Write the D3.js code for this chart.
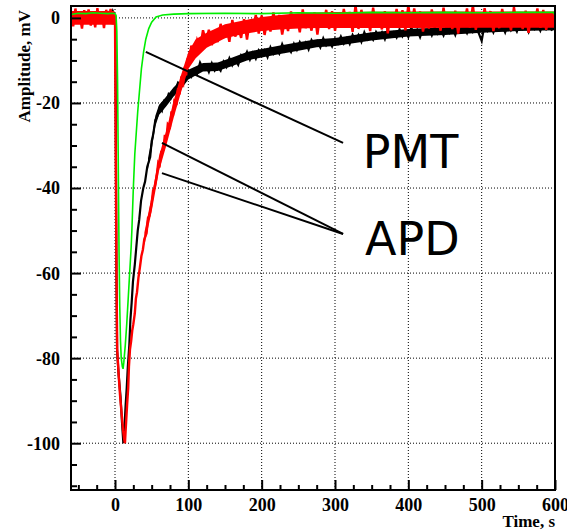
<!DOCTYPE html>
<html>
<head>
<meta charset="utf-8">
<script src="https://cdn.jsdelivr.net/npm/d3@7"></script>
<style>
  body { margin: 0; background: #fff; }
  svg { display: block; }
</style>
</head>
<body>
<div id="chart"></div>
<script>
// ticks
const xMajor = [0, 100, 200, 300, 400, 500, 600]
const xMinor = [-50, -25, 25, 50, 75, 125, 150, 175, 225, 250, 275, 325, 350, 375, 425, 450, 475, 525, 550, 575]
const yMajor = [0, -20, -40, -60, -80, -100]
const yMinor = [-5, -10, -15, -25, -30, -35, -45, -50, -55, -65, -70, -75, -85, -90, -95, -105, -110]

// PMT, [time, amplitude]
const pmt = [[-60, 0.8], [-50, 1.1], [-40, 1.0], [-30, 1.2], [-20, 1.1], [-10, 1.0], [-3, 1.1], [0, 1.0],
  [1.5, 0.5], [2.5, -3], [3.5, -15], [4.5, -35], [5.5, -55], [6.5, -68], [7.5, -76], [8.5, -80], [10, -82],
  [11, -82.5], [12, -81], [14, -77], [16, -72], [18, -66], [20, -60], [22, -54], [23, -50], [24, -45],
  [25, -40], [27, -32], [29, -27], [31, -22], [33, -18], [36, -12], [39, -8], [42, -5], [46, -2.5], [50, -1],
  [56, 0.2], [65, 0.7], [80, 0.9], [100, 1.0], [150, 1.1], [200, 1.0], [250, 1.2], [300, 1.1], [350, 1.3],
  [400, 1.2], [450, 1.3], [500, 1.2], [550, 1.3], [598, 1.3], [600, 0.6]]

// APD (black): baseline sampled every 3 s from -60, pulse as pairs, tail every 4 s from 100
const apd1Pre = [0.0, 0.8, -0.4, 0.5, -0.1, 1.0, -0.3, 0.3, 0.8, -0.5, 0.6, 0.0, 0.9, -0.3, 0.4, 0.7, -0.2, 1.1, 0.1, 1.6, 0.3]
const apd1Pulse = [[0.5, 0], [1.2, -30], [2, -60], [2.8, -78], [5, -84], [7.5, -89], [9.5, -95], [11.4, -100],
  [13, -96], [14.5, -91], [16, -87], [17.5, -82], [19.5, -77], [21, -71], [22.7, -67], [24.5, -62], [27, -58],
  [29, -54], [31, -50], [33, -47.5], [35.5, -43], [38.6, -40], [41, -38.5], [44, -35], [48, -32.7], [50, -29],
  [52, -27.5], [55, -24], [58, -23], [61, -21], [64, -21.8], [67, -19.5], [70, -19.8], [73, -18], [76, -18.8],
  [79.5, -17], [83, -16.5], [86, -15.2], [90, -15.8], [94, -14], [98, -14.2]]
const apd1Tail = [-12.7, -13.8, -12.2, -13.1, -10.5, -11.9, -11.1, -12.7, -10.7, -12.4, -11.5, -12.4, -10.3,
  -11.5, -9.5, -11.1, -9.8, -11.0, -8.8, -9.6, -8.0, -9.8, -8.2, -9.6, -7.6, -8.5, -7.6, -9.2, -6.9, -8.4,
  -7.3, -8.4, -6.2, -7.8, -6.9, -8.0, -6.1, -7.5, -5.7, -6.9, -5.8, -7.4, -5.2, -6.3, -5.5, -6.9, -4.8, -6.4,
  -5.4, -6.7, -4.9, -6.0, -4.4, -6.0, -4.8, -6.1, -4.0, -5.2, -4.0, -5.6, -3.4, -5.0, -3.9, -5.1, -3.3, -4.4,
  -3.4, -5.0, -2.9, -4.3, -3.4, -4.6, -2.7, -4.3, -3.0, -4.5, -2.3, -3.8, -2.8, -4.5, -2.5, -3.6, -2.5, -4.1,
  -2.2, -3.7, -2.7, -4.1, -2.1, -3.5, -2.4, -4.0, -1.9, -3.3, -2.3, -3.6, -1.8, -3.3, -2.4, -3.6, -5.4, -1.5,
  -3.0, -1.8, -3.4, -1.6, -2.7, -1.8, -3.4, -1.3, -2.9, -1.9, -3.2, -1.3, -2.6, -1.6, -3.3, -1.3, -2.6, -1.6,
  -3.0, -1.1, -2.6, -1.6, -3.0]
// dense part of the black noise band, [time, low, high]
const apd1Band = [[45, -35.5, -33], [50, -31, -28.5], [55, -25.5, -23], [60, -22.8, -20.5], [70, -20.8, -18.5],
  [80, -18.5, -16.3], [90, -16.8, -14.7], [100, -14.5, -12.2], [120, -12.6, -10.6], [140, -12.5, -10.5],
  [160, -11.3, -9.3], [180, -10, -8], [200, -9.3, -7.3], [225, -8.5, -6.5], [250, -7.7, -5.7], [275, -6.9, -5],
  [300, -6.6, -4.7], [350, -5.3, -3.4], [400, -4.4, -2.6], [450, -4, -2.2], [500, -3.5, -1.7], [550, -3.1, -1.3],
  [600, -2.9, -1.1]]

// APD (red): same sampling, tail every 4 s from 104
const apd2Pre = [1.5, -2.0, 2.2, -1.0, 0.5, -2.5, 1.8, -0.5, 2.0, -1.8, 0.8, -2.2, 2.3, -1.0, 1.2, -2.4, 1.9, -0.8, 2.1, -1.5, 1.0]
const apd2Pulse = [[0, 0.5], [1, -30], [2, -60], [3, -78], [5, -84], [7, -89], [9, -93], [11, -97], [12.5, -99],
  [13.6, -100], [14.5, -97], [15.5, -94], [16.5, -91], [18, -87], [19, -82], [20.4, -78], [22, -76], [23.5, -73.5],
  [25, -72], [27, -69.5], [28.5, -66], [30, -64.5], [32, -61], [34, -58.6], [36, -56], [38, -54.5], [40, -52],
  [43, -50.6], [45, -47], [47, -46.5], [50, -43.5], [52, -40.5], [54, -40], [57, -37], [59, -34], [61, -34.5],
  [63, -31.5], [66, -31], [68, -27.5], [70, -28.5], [72, -25], [75, -25.6], [77, -22], [79, -23], [81, -19.5],
  [84, -20], [86, -16.5], [88, -18], [90, -14.5], [93, -15.5], [95, -11.5], [97, -13.5], [99, -9.5], [101, -11]]
const apd2Tail = [-6.5, -9.2, -5.3, -7.3, -2.9, -5.5, -2.8, -6.4, -3.3, -5.7, -1.4, -4.7, -2.3, -5.6, -0.5,
  -4.4, -2.2, -4.7, -0.3, -5.1, -0.5, -2.9, 0.7, -3.7, 0.6, -4.0, -0.1, -3.2, 1.3, -2.1, 0.7, -3.9, -0.2, -3.1,
  1.5, -2.2, 0.3, -3.4, 2.0, -2.4, -0.2, -3.0, 1.3, -3.9, 0.9, -1.6, 1.9, -2.6, 1.6, -3.0, 0.9, -2.3, 2.1, -1.4,
  1.4, -3.3, 3.0, -2.6, 1.9, -1.8, 0.6, -3.1, 2.4, -2.0, 0.1, -2.7, 1.6, -3.6, 1.2, -1.4, 2.1, -2.4, 1.8, -2.9,
  3.0, -2.2, 2.2, -1.3, 1.5, -3.2, 0.4, -2.5, 2.0, -1.7, 0.7, -3.0, 2.4, -2.0, 0.2, -2.6, 1.7, -3.7, 1.3, -1.3,
  2.2, -2.3, 3.0, -2.8, 1.1, -2.1, 2.3, -1.2, 1.6, -3.1, 0.5, -2.4, 2.1, -1.6, 0.8, -2.9, 2.5, -1.9, 0.2, -2.6,
  1.7, -3.5, 1.3, -1.3, 2.2, -2.3, 1.9, -2.8, 1.1, -2.1]
// dense part of the red noise band, [time, low, high]
const apd2BandPre = [[-60, -1.6, 1.6], [-1, -1.6, 1.6]]
const apd2Band = [[40, -53.5, -50.5], [50, -45.5, -42], [60, -36, -32.5], [70, -30, -26.5], [80, -23.5, -19.5],
  [90, -17.5, -13.5], [100, -12, -8], [110, -9.5, -5], [125, -7, -3.5], [150, -4.8, -1.5], [175, -3.8, -0.6],
  [200, -3.1, 0.2], [225, -2.7, 0.7], [250, -2.5, 1.1], [275, -2.4, 1.3], [300, -2.4, 1.4], [400, -2.4, 1.5],
  [500, -2.3, 1.5], [600, -2.3, 1.5]]

// annotation lines [x1, y1, x2, y2] in data units, and labels
const pmtLines = [[42, -8, 311, -29.4]]
const apdLines = [[64, -29.4, 311, -50.8], [64, -36.5, 311, -50.8]]
const labels = [{text: 'PMT', t: 338, v: -35.3}, {text: 'APD', t: 341, v: -55.8}]

let margin = {top: 6, right: 12, bottom: 41, left: 71},
  width = 567 - margin.left - margin.right,
  height = 531 - margin.top - margin.bottom

const serif = "'Liberation Serif', 'Times New Roman', serif"

function sampled(values, start, step) {
  return values.map(function(v, i) { return [start + i * step, v] })
}

let svg = d3.select('#chart')
  .append('svg')
  .attr('width', 567)
  .attr('height', 531)

let g = svg.append('g')
  .attr('transform', 'translate(' + margin.left + ',' + margin.top + ')')

let x = d3.scaleLinear().domain([-60, 600]).range([0, width])
let y = d3.scaleLinear().domain([-111, 2.8]).range([height, 0])

// grid
g.append('g')
  .selectAll('line')
  .data(xMajor.filter(function(d) { return d < 600 }))
  .enter()
  .append('line')
  .attr('x1', function(d) { return x(d) })
  .attr('x2', function(d) { return x(d) })
  .attr('y1', 0)
  .attr('y2', height)
  .attr('stroke', '#000')
  .attr('stroke-width', 1)
  .attr('stroke-dasharray', '1,2')
g.append('g')
  .selectAll('line')
  .data(yMajor)
  .enter()
  .append('line')
  .attr('x1', 0)
  .attr('x2', width)
  .attr('y1', function(d) { return y(d) })
  .attr('y2', function(d) { return y(d) })
  .attr('stroke', '#000')
  .attr('stroke-width', 1)
  .attr('stroke-dasharray', '1,2')

// traces
svg.append('defs').append('clipPath').attr('id', 'clip')
  .append('rect').attr('width', width).attr('height', height)

let line = d3.line()
  .x(function(d) { return x(d[0]) })
  .y(function(d) { return y(d[1]) })

let band = d3.area()
  .x(function(d) { return x(d[0]) })
  .y0(function(d) { return y(d[1]) })
  .y1(function(d) { return y(d[2]) })

let traces = g.append('g').attr('clip-path', 'url(#clip)')

let apd1 = sampled(apd1Pre, -60, 3).concat(apd1Pulse, sampled(apd1Tail, 100, 4))
let apd2 = sampled(apd2Pre, -60, 3).concat(apd2Pulse, sampled(apd2Tail, 104, 4))

traces.append('path').datum(apd1Band).attr('d', band).attr('fill', '#000')
traces.append('path').datum(apd1)
  .attr('d', line).attr('fill', 'none').attr('stroke', '#000').attr('stroke-width', 2.2)
traces.append('path').datum(apd2BandPre).attr('d', band).attr('fill', '#ff0000')
traces.append('path').datum(apd2Band).attr('d', band).attr('fill', '#ff0000')
traces.append('path').datum(apd2)
  .attr('d', line).attr('fill', 'none').attr('stroke', '#ff0000').attr('stroke-width', 2.4)
traces.append('path').datum(pmt)
  .attr('d', line).attr('fill', 'none').attr('stroke', '#00ee00').attr('stroke-width', 1.6)

// axes, ticks point inwards
function fmt(d) { return String(d) }

function styleLabels(a) {
  a.attr('font-family', null).attr('font-size', null)
  a.selectAll('.tick text')
    .attr('font-family', serif)
    .attr('font-weight', 'bold')
    .attr('font-size', 18)
    .style('font-family', serif)
    .style('font-weight', 'bold')
    .style('font-size', '18px')
    .attr('fill', '#000')
}

g.append('g')
  .call(d3.axisLeft(y).tickValues(yMajor).tickSize(-10).tickPadding(11).tickFormat(fmt))
  .call(function(a) { a.select('.domain').remove() })
  .call(function(a) { a.selectAll('.tick line').attr('stroke-width', 2) })
  .call(function(a) { a.selectAll('.tick text').attr('dy', '0.33em') })
  .call(styleLabels)
g.append('g')
  .call(d3.axisLeft(y).tickValues(yMinor).tickSize(-6).tickFormat(''))
  .call(function(a) { a.select('.domain').remove() })
  .call(function(a) { a.selectAll('.tick line').attr('stroke-width', 2) })

g.append('g')
  .attr('transform', 'translate(0,' + height + ')')
  .call(d3.axisBottom(x).tickValues(xMajor).tickSize(-10).tickPadding(8).tickFormat(fmt))
  .call(function(a) { a.select('.domain').remove() })
  .call(function(a) { a.selectAll('.tick line').attr('stroke-width', 2) })
  .call(function(a) { a.selectAll('.tick text').attr('dy', '0.71em') })
  .call(styleLabels)
g.append('g')
  .attr('transform', 'translate(0,' + height + ')')
  .call(d3.axisBottom(x).tickValues(xMinor).tickSize(-5).tickFormat(''))
  .call(function(a) { a.select('.domain').remove() })
  .call(function(a) { a.selectAll('.tick line').attr('stroke-width', 2) })

// frame
g.append('rect')
  .attr('width', width)
  .attr('height', height)
  .attr('fill', 'none')
  .attr('stroke', '#000')
  .attr('stroke-width', 2)

// annotations
g.append('g')
  .selectAll('line')
  .data(pmtLines.concat(apdLines))
  .enter()
  .append('line')
  .attr('x1', function(d) { return x(d[0]) })
  .attr('y1', function(d) { return y(d[1]) })
  .attr('x2', function(d) { return x(d[2]) })
  .attr('y2', function(d) { return y(d[3]) })
  .attr('stroke', '#000')
  .attr('stroke-width', 2)

g.append('g')
  .selectAll('text')
  .data(labels)
  .enter()
  .append('text')
  .attr('x', function(d) { return x(d.t) })
  .attr('y', function(d) { return y(d.v) })
  .attr('font-family', 'DejaVu Sans, sans-serif')
  .attr('font-size', 46)
  .attr('fill', '#000')
  .text(function(d) { return d.text })

// axis titles
svg.append('text')
  .attr('x', 555)
  .attr('y', 527)
  .attr('text-anchor', 'end')
  .style('font-family', serif)
  .style('font-weight', 'bold')
  .style('font-size', '17px')
  .text('Time, s')

svg.append('text')
  .attr('transform', 'translate(30,10) rotate(-90)')
  .attr('text-anchor', 'end')
  .style('font-family', serif)
  .style('font-weight', 'bold')
  .style('font-size', '17px')
  .text('Amplitude, mV')
</script>
</body>
</html>
